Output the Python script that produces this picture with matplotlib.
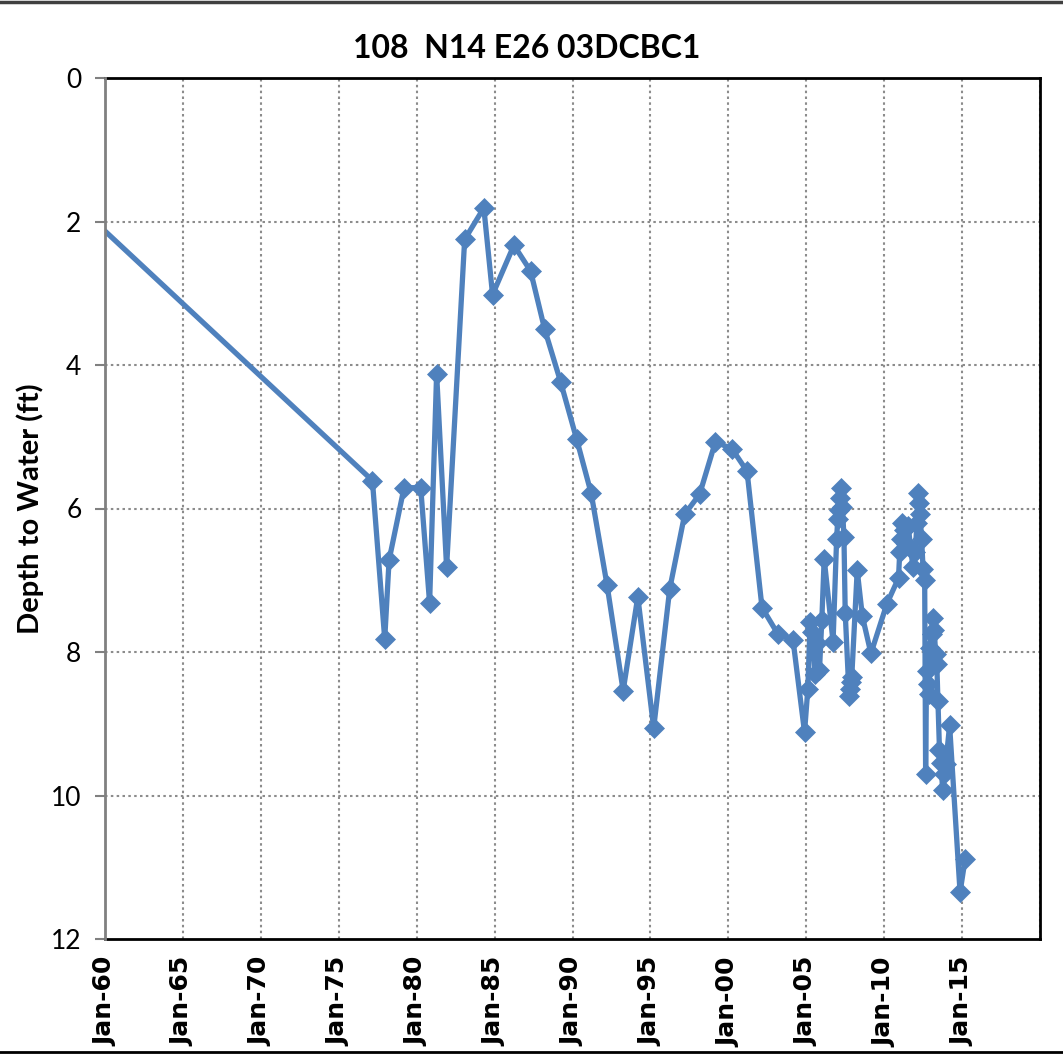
import matplotlib
matplotlib.use("Agg")
import matplotlib.pyplot as plt
from matplotlib.lines import Line2D

# ---- data (decimal year, depth to water in ft) ----
years = [
    1955.0,
    1977.16, 1977.95, 1978.23, 1979.19, 1980.26, 1980.83, 1981.28, 1981.92,
    1983.08, 1984.31, 1984.87, 1986.24, 1987.31, 1988.21, 1989.23, 1990.26,
    1991.20, 1992.22, 1993.25, 1994.19, 1995.21, 1996.24, 1997.20, 1998.16,
    1999.17, 2000.24, 2001.20, 2002.16, 2003.18, 2004.15, 2004.89,
    2005.10, 2005.25, 2005.40, 2005.55, 2005.70, 2005.85, 2006.00, 2006.15,
    2006.72, 2006.95, 2007.02, 2007.10, 2007.18, 2007.25, 2007.32, 2007.42,
    2007.50, 2007.75, 2007.80, 2007.85, 2007.92, 2008.27, 2008.60, 2009.15,
    2010.17, 2010.92,
    2011.00, 2011.06, 2011.13, 2011.25, 2011.40, 2011.55, 2011.70, 2011.85,
    2012.00, 2012.10, 2012.16, 2012.22, 2012.30, 2012.40, 2012.50, 2012.60,
    2012.66, 2012.72, 2012.80, 2012.88, 2012.95, 2013.05, 2013.15, 2013.22,
    2013.30, 2013.38, 2013.45, 2013.55, 2013.65, 2013.75, 2013.85, 2013.95,
    2014.20, 2014.87, 2015.20,
]
depths = [
    1.12,
    5.61, 7.82, 6.72, 5.71, 5.71, 7.32, 4.12, 6.82,
    2.25, 1.81, 3.02, 2.33, 2.69, 3.50, 4.23, 5.03,
    5.79, 7.07, 8.54, 7.23, 9.06, 7.12, 6.08, 5.80,
    5.07, 5.17, 5.48, 7.38, 7.75, 7.83, 9.12,
    8.52, 7.58, 7.72, 8.30, 7.88, 8.25, 7.55, 6.70,
    7.86, 6.42, 6.15, 6.02, 5.86, 5.72, 5.98, 6.40,
    7.45, 8.62, 8.52, 8.42, 8.35, 6.86, 7.50, 8.02,
    7.33, 6.97,
    6.60, 6.42, 6.20, 6.30, 6.50, 6.25, 6.56, 6.82,
    6.60, 6.20, 5.78, 5.92, 6.08, 6.42, 6.85, 7.00,
    9.70, 8.26, 8.44, 8.58, 7.95, 7.75, 7.52, 7.70,
    8.03, 8.17, 8.68, 9.37, 9.55, 9.92, 9.70, 9.56,
    9.02, 11.35, 10.88,
]
x_ticks = [1960, 1965, 1970, 1975, 1980, 1985, 1990, 1995, 2000, 2005, 2010, 2015]
x_labels = ["Jan-60", "Jan-65", "Jan-70", "Jan-75", "Jan-80", "Jan-85",
            "Jan-90", "Jan-95", "Jan-00", "Jan-05", "Jan-10", "Jan-15"]
y_ticks = [0, 2, 4, 6, 8, 10, 12]
title = "108  N14 E26 03DCBC1"
ylabel = "Depth to Water (ft)"

blue = "#4F81BD"
grid_c = "#8C8C8C"

fig = plt.figure(figsize=(10.63, 10.58), dpi=100)
ax = fig.add_axes([105/1063, 1-939/1058, (1040-105)/1063, (939-78)/1058])

ax.plot(years, depths, color=blue, lw=3.8, marker="D", ms=10.5,
        mfc=blue, mec=blue, mew=0.5, zorder=3)

ax.set_xlim(1960, 2020)
ax.set_ylim(12, 0)
ax.set_yticks(y_ticks)
ax.set_yticklabels([str(v) for v in y_ticks], fontsize=19, family="Lato")
ax.set_xticks(x_ticks + [2020])
ax.set_xticklabels(x_labels + [""], rotation=90, fontsize=18,
                   fontweight="bold", family="DejaVu Sans")
ax.tick_params(axis="x", length=0, pad=13)
ax.tick_params(axis="y", length=7, width=1.5, color="#808080", direction="out", pad=10)

for v in [2, 4, 6, 8, 10]:
    ax.axhline(v, color=grid_c, lw=1.5, ls=(0, (1.2, 1.6)), zorder=1)
for v in x_ticks[1:] + [2020]:
    ax.axvline(v, color=grid_c, lw=1.5, ls=(0, (1.2, 1.6)), zorder=1)

ax.spines["left"].set_color("#808080")
ax.spines["left"].set_linewidth(2)
for s in ["top", "right", "bottom"]:
    ax.spines[s].set_color("black")
    ax.spines[s].set_linewidth(2)
ax.spines["left"].set_zorder(4)

ax.set_ylabel(ylabel, fontsize=21, fontweight="bold", family="Lato")
ax.yaxis.set_label_coords(-(105-44)/935, 0.5)

fig.text(527/1063, 1-48/1058, title, ha="center", va="center",
         fontsize=23, fontweight="bold", family="Lato")

# outer border lines
fig.add_artist(Line2D([0, 1], [1-2/1058, 1-2/1058], color="#404040", lw=2.5,
                      transform=fig.transFigure))
fig.add_artist(Line2D([0, 1], [1-1052/1058, 1-1052/1058], color="black", lw=2,
                      transform=fig.transFigure))

fig.savefig("out.png", dpi=100)
